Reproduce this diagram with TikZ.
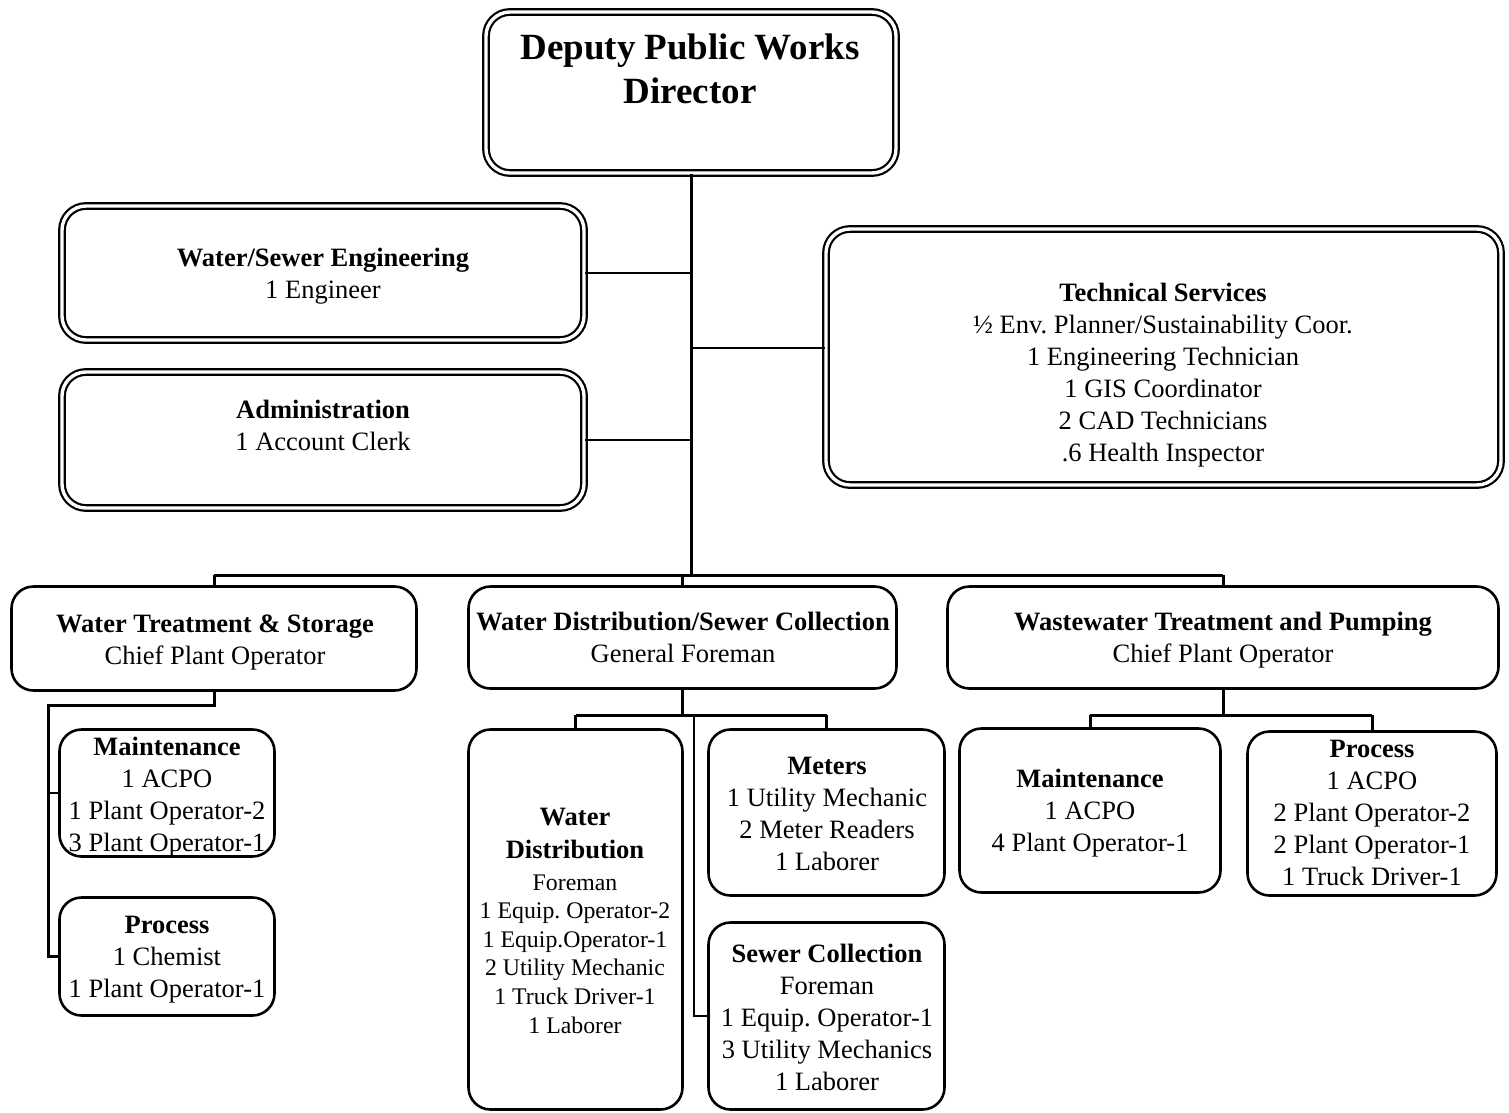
\documentclass[tikz,border=0pt]{standalone}
\usepackage{fontspec}
\setmainfont{Liberation Serif}
\frenchspacing
\begin{document}
\begin{tikzpicture}[x=1pt,y=-1pt,
  box/.style={draw, line width=2.6pt, rounded corners=22pt, inner sep=0pt},
  dbox/.style={draw, line width=2.2pt, double, double distance=3.4pt, rounded corners=24pt, inner sep=0pt},
  txt/.style={align=center, inner sep=0pt, anchor=base, font=\fontsize{26.5}{32}\selectfont},
  conn/.style={line width=2pt},
  trunk/.style={line width=3pt}]
\useasboundingbox (0,0) rectangle (1509,1113);

% boxes
\node[dbox, minimum width=410pt, minimum height=161pt] (dir) at (691,92.5) {};
\node[dbox, minimum width=522pt, minimum height=134pt] (wse) at (323,273) {};
\node[dbox, minimum width=522pt, minimum height=136pt] (adm) at (323,440) {};
\node[dbox, minimum width=675pt, minimum height=256pt] (tech) at (1163.5,357) {};

\node[box, minimum width=405pt, minimum height=104pt] (wts) at (214,638.5) {};
\node[box, minimum width=428pt, minimum height=102pt] (wds) at (682.5,637.5) {};
\node[box, minimum width=551pt, minimum height=102pt] (wwt) at (1223,637.5) {};

\node[box, minimum width=215pt, minimum height=127pt] (wtm) at (167,793) {};
\node[box, minimum width=215pt, minimum height=118pt] (wtp) at (167,956.5) {};
\node[box, minimum width=214pt, minimum height=380pt] (wd) at (575.5,919.5) {};
\node[box, minimum width=236pt, minimum height=166pt] (met) at (826.5,812.5) {};
\node[box, minimum width=236pt, minimum height=187pt] (sew) at (826.5,1016) {};
\node[box, minimum width=261pt, minimum height=164pt] (wwm) at (1090,810.5) {};
\node[box, minimum width=249pt, minimum height=164pt] (wwp) at (1372,813.5) {};

% texts (placed at the baseline of their last line)
\node[txt, font=\bfseries\fontsize{37}{44}\selectfont] (dirT) at (690,104) {Deputy Public Works\\Director};
\node[txt] (wseT) at (323,298) {\textbf{Water/Sewer Engineering}\\1 Engineer};
\node[txt] (admT) at (323,450) {\textbf{Administration}\\1 Account Clerk};
\node[txt] (techT) at (1163,461) {\textbf{Technical Services}\\½ Env. Planner/Sustainability Coor.\\1 Engineering Technician\\1 GIS Coordinator\\2 CAD Technicians\\.6 Health Inspector};
\node[txt] (wtsT) at (215,664) {\textbf{Water Treatment \& Storage}\\Chief Plant Operator};
\node[txt] (wdsT) at (683,662) {\textbf{Water Distribution/Sewer Collection}\\General Foreman};
\node[txt] (wwtT) at (1223,662) {\textbf{Wastewater Treatment and Pumping}\\Chief Plant Operator};
\node[txt] (wtmT) at (167,851) {\textbf{Maintenance}\\1 ACPO\\1 Plant Operator-2\\3 Plant Operator-1};
\node[txt] (wtpT) at (167,997) {\textbf{Process}\\1 Chemist\\1 Plant Operator-1};
\node[txt, font=\fontsize{23.8}{28.6}\selectfont] (wdT) at (575,1033) {{\bfseries\fontsize{26.5}{32}\selectfont Water}\\[4pt]{\bfseries\fontsize{26.5}{32}\selectfont Distribution}\\[3pt]Foreman\\1 Equip. Operator-2\\1 Equip.Operator-1\\2 Utility Mechanic\\1 Truck Driver-1\\1 Laborer};
\node[txt] (metT) at (827,870) {\textbf{Meters}\\1 Utility Mechanic\\2 Meter Readers\\1 Laborer};
\node[txt] (sewT) at (827,1090) {\textbf{Sewer Collection}\\Foreman\\1 Equip. Operator-1\\3 Utility Mechanics\\1 Laborer};
\node[txt] (wwmT) at (1090,851) {\textbf{Maintenance}\\1 ACPO\\4 Plant Operator-1};
\node[txt] (wwpT) at (1372,885) {\textbf{Process}\\1 ACPO\\2 Plant Operator-2\\2 Plant Operator-1\\1 Truck Driver-1};

% coordinates
\coordinate (busY) at (0,575);
\coordinate (techY) at (0,348);
\coordinate (subY) at (0,715);
\coordinate (wtA) at (48,705);
\coordinate (wdS) at (694,715);

% connectors
\draw[trunk] (dir.south) -- (dir.south |- busY);
\draw[conn] (wse.east) -- (wse.east -| dir.south);
\draw[conn] (adm.east) -- (adm.east -| dir.south);
\draw[conn] (dir.south |- techY) -- (tech.west |- techY);
\draw[trunk] (wts.north |- busY) -- (wwt.north |- busY);
\draw[trunk] (wts.north) -- (wts.north |- busY);
\draw[trunk] (wds.north) -- (wds.north |- busY);
\draw[trunk] (wwt.north) -- (wwt.north |- busY);

\draw[trunk] (wts.south) |- (wtA) -- (wtA |- wtp.west) -- (wtp.west);
\draw[conn] (wtA |- wtm.west) -- (wtm.west);

\draw[trunk] (wds.south) -- (wds.south |- subY);
\draw[trunk] (wd.north |- subY) -- (met.north |- subY);
\draw[trunk] (wd.north) -- (wd.north |- subY);
\draw[trunk] (met.north) -- (met.north |- subY);
\draw[conn] (wdS) |- (sew.west);

\draw[trunk] (wwt.south) -- (wwt.south |- subY);
\draw[trunk] (wwm.north |- subY) -- (wwp.north |- subY);
\draw[trunk] (wwm.north) -- (wwm.north |- subY);
\draw[trunk] (wwp.north) -- (wwp.north |- subY);
\end{tikzpicture}
\end{document}
